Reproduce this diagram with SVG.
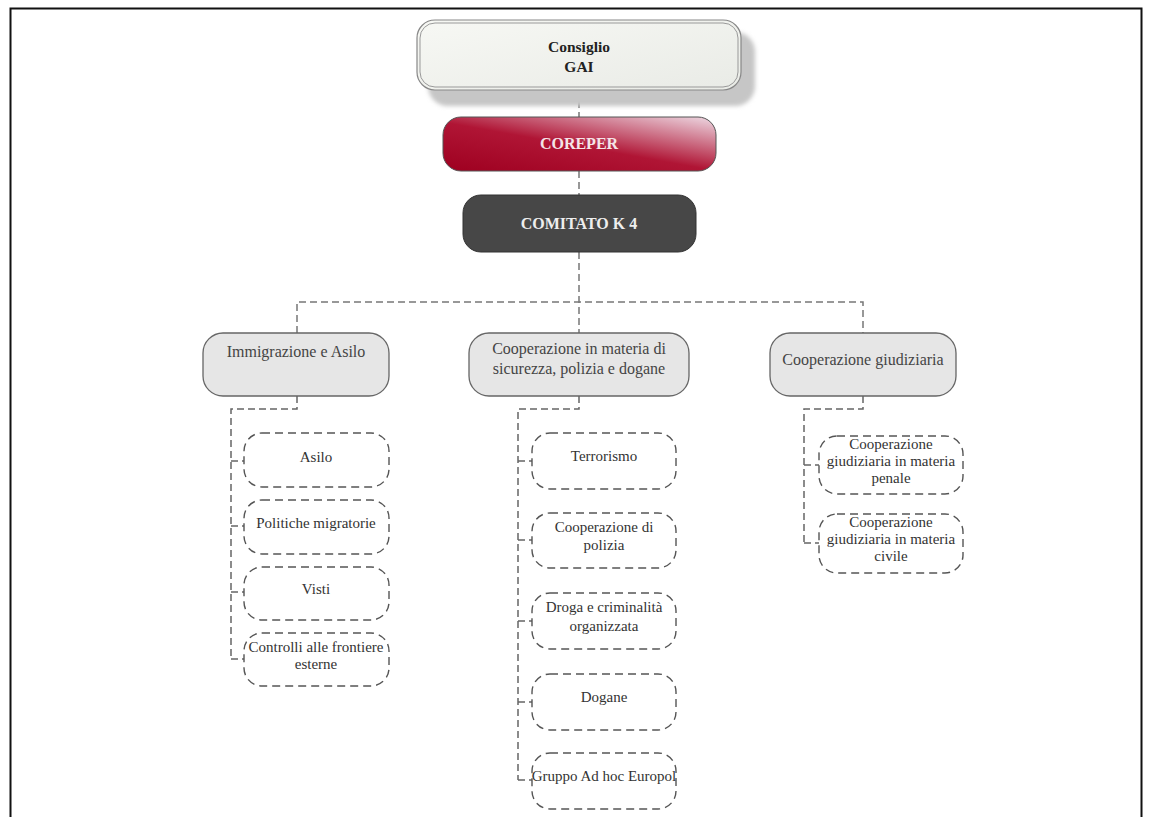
<svg xmlns="http://www.w3.org/2000/svg" width="1152" height="817" viewBox="0 0 1152 817">
<defs>
<linearGradient id="gCons" x1="0" y1="0" x2="1" y2="1">
<stop offset="0" stop-color="#f7f8f4"/><stop offset="1" stop-color="#e9ebe6"/>
</linearGradient>
<linearGradient id="gRed" x1="0" y1="1" x2="0.9" y2="0">
<stop offset="0" stop-color="#9e0020"/><stop offset="0.5" stop-color="#b01535"/><stop offset="1" stop-color="#e8c8d4"/>
</linearGradient>
<filter id="blur" x="-10%" y="-20%" width="120%" height="140%"><feGaussianBlur stdDeviation="2"/></filter>
</defs>
<style>
.t{font-family:"Liberation Serif","Times New Roman",serif;text-anchor:middle}
.b{font-weight:bold}
.conn{fill:none;stroke:#777;stroke-width:1.5;stroke-dasharray:7,4}
.conn2{fill:none;stroke:#666;stroke-width:1.5;stroke-dasharray:7,4}
.l2{fill:#e6e6e6;stroke:#666;stroke-width:1.3}
.l3{fill:#fff;stroke:#555;stroke-width:1.4;stroke-dasharray:8,5}
.l2t{font-size:16px;fill:#444}
.l3t{font-size:15px;fill:#333}
</style>
<rect x="0" y="0" width="1152" height="817" fill="#fff"/>
<path d="M10.5 817 V8.5 H1141.5 V817" fill="none" stroke="#111" stroke-width="2"/>

<g id="connectors">
<path class="conn" d="M579 90 V117 M579 171 V195 M579 252 V333"/>
<path class="conn" d="M297 333 V302 H863 V333"/>
<path class="conn2" d="M297 396 V409 H231 V659 M231 461 H244 M231 526 H244 M231 592 H244 M231 659 H244"/>
<path class="conn2" d="M579 396 V409 H518 V780 M518 461 H532 M518 540 H532 M518 621 H532 M518 702 H532 M518 780 H532"/>
<path class="conn2" d="M863 396 V409 H804 V543 M804 465 H819 M804 543 H819"/>
</g>

<g id="consiglio">
<rect x="428" y="32" width="327" height="74" rx="20" fill="#c6c6c6" filter="url(#blur)"/>
<rect x="417" y="20" width="324" height="70" rx="18" fill="url(#gCons)" stroke="#888" stroke-width="1.2"/>
<rect x="420" y="23" width="318" height="64" rx="15" fill="none" stroke="#999" stroke-width="1"/>
<text class="t b" x="579" y="52" font-size="15.5" fill="#222">Consiglio</text>
<text class="t b" x="579" y="72" font-size="15.5" fill="#222">GAI</text>
</g>

<g id="coreper">
<rect x="443" y="117" width="273" height="54" rx="18" fill="url(#gRed)" stroke="#555" stroke-width="1"/>
<text class="t b" x="579" y="149" font-size="16" fill="#f4e4e8">COREPER</text>
</g>

<g id="comitato">
<rect x="463" y="195" width="233" height="57" rx="18" fill="#474747" stroke="#333" stroke-width="1"/>
<text class="t b" x="579" y="229" font-size="16" fill="#eee">COMITATO K 4</text>
</g>

<g id="immigrazione">
<rect class="l2" x="203" y="333" width="186" height="63" rx="20" stroke="#888"/>
<text class="t l2t" x="296" y="357">Immigrazione e Asilo</text>
</g>
<g id="cooperazione-sicurezza">
<rect class="l2" x="469" y="333" width="220" height="63" rx="20" stroke="#777"/>
<text class="t l2t" x="579" y="354">Cooperazione in materia di</text>
<text class="t l2t" x="579" y="374">sicurezza, polizia e dogane</text>
</g>
<g id="cooperazione-giudiziaria">
<rect class="l2" x="770" y="333" width="186" height="63" rx="20" stroke="#444"/>
<text class="t l2t" x="863" y="365">Cooperazione giudiziaria</text>
</g>

<g id="asilo"><rect class="l3" x="244" y="433" width="145" height="54" rx="18"/><text class="t l3t" x="316" y="462">Asilo</text></g>
<g id="politiche"><rect class="l3" x="244" y="500" width="145" height="54" rx="18"/><text class="t l3t" x="316" y="528">Politiche migratorie</text></g>
<g id="visti"><rect class="l3" x="244" y="567" width="145" height="53" rx="18"/><text class="t l3t" x="316" y="594">Visti</text></g>
<g id="controlli"><rect class="l3" x="244" y="633" width="145" height="53" rx="18"/><text class="t l3t" x="316" y="652">Controlli alle frontiere</text><text class="t l3t" x="316" y="669">esterne</text></g>

<g id="terrorismo"><rect class="l3" x="532" y="433" width="144" height="56" rx="18"/><text class="t l3t" x="604" y="461">Terrorismo</text></g>
<g id="polizia"><rect class="l3" x="532" y="513" width="144" height="55" rx="18"/><text class="t l3t" x="604" y="532">Cooperazione di</text><text class="t l3t" x="604" y="550">polizia</text></g>
<g id="droga"><rect class="l3" x="532" y="593" width="144" height="56" rx="18"/><text class="t l3t" x="604" y="612">Droga e criminalità</text><text class="t l3t" x="604" y="631">organizzata</text></g>
<g id="dogane"><rect class="l3" x="532" y="674" width="144" height="56" rx="18"/><text class="t l3t" x="604" y="702">Dogane</text></g>
<g id="europol"><rect class="l3" x="532" y="753" width="144" height="56" rx="18"/><text class="t l3t" x="604" y="781">Gruppo Ad hoc Europol</text></g>

<g id="penale"><rect class="l3" x="819" y="436" width="144" height="58" rx="18"/><text class="t l3t" x="891" y="449">Cooperazione</text><text class="t l3t" x="891" y="466">giudiziaria in materia</text><text class="t l3t" x="891" y="483">penale</text></g>
<g id="civile"><rect class="l3" x="819" y="514" width="144" height="59" rx="18"/><text class="t l3t" x="891" y="527">Cooperazione</text><text class="t l3t" x="891" y="544">giudiziaria in materia</text><text class="t l3t" x="891" y="561">civile</text></g>
</svg>
